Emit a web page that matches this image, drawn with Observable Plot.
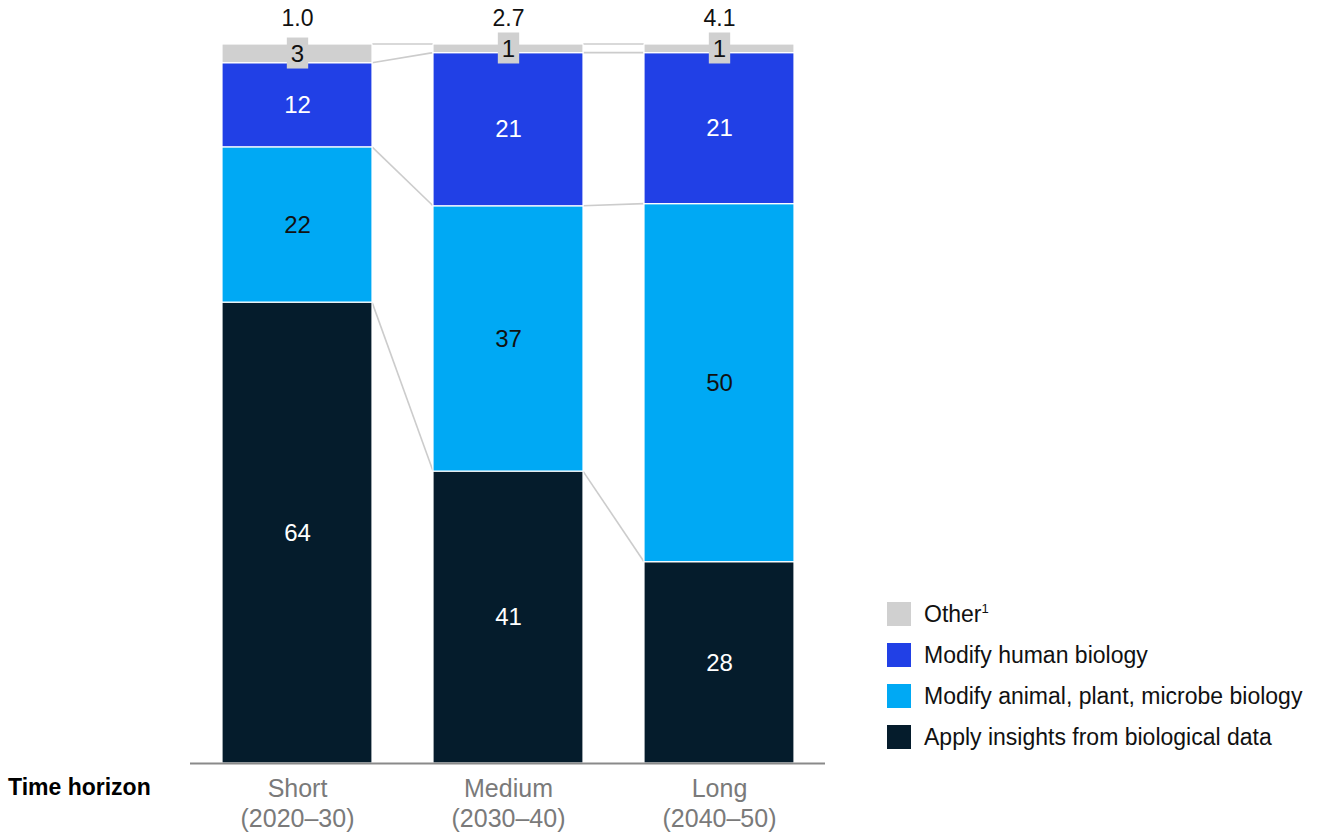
<!DOCTYPE html>
<html>
<head>
<meta charset="utf-8">
<script src="https://cdn.jsdelivr.net/npm/d3@7"></script>
<script src="https://cdn.jsdelivr.net/npm/@observablehq/plot@0.6"></script>
<style>
  body { margin: 0; background: #fff; font-family: "Liberation Sans", Arial, sans-serif; }
  #wrap { position: relative; width: 1326px; height: 832px; }
  #title { position: absolute; left: 8px; top: 774px; font-size: 23px; font-weight: bold; color: #000; }
  #legend { position: absolute; left: 887px; top: 602px; font-size: 23px; color: #111; }
  .item { display: flex; align-items: center; height: 24px; margin-bottom: 17px; }
  .sw { width: 24px; height: 24px; margin-right: 13px; flex: none; }
  sup { font-size: 13px; vertical-align: 9px; }
</style>
</head>
<body>
<div id="wrap">
  <div id="chart"></div>
  <div id="title">Time horizon</div>
  <div id="legend"></div>
</div>
<script>
// ---- data ----
const categories = ["Short\n(2020–30)", "Medium\n(2030–40)", "Long\n(2040–50)"];
const totals = [1.0, 2.7, 4.1];
const series = ["Apply insights from biological data", "Modify animal, plant, microbe biology", "Modify human biology", "Other"];
const applyInsights = [64.1, 40.6, 28.0];
const modifyAnimal = [21.6, 36.9, 49.8];
const modifyHuman = [11.7, 21.3, 21.0];
const other = [2.6, 1.2, 1.2];
const colors = ["#051c2c", "#00a9f4", "#2140e6", "#d0d0d0"];
const legendOrder = ["Other", "Modify human biology", "Modify animal, plant, microbe biology", "Apply insights from biological data"];

const seriesValues = [applyInsights, modifyAnimal, modifyHuman, other];
const rows = [];
series.forEach((s, si) => categories.forEach((c, ci) => rows.push({cat: c, series: s, value: seriesValues[si][ci]})));
const totalRows = categories.map((c, i) => ({cat: c, total: totals[i]}));

// cumulative boundaries for connector lines
const bounds = categories.map((c, ci) => {
  let acc = 0;
  return seriesValues.map(v => (acc += v[ci]));
});

const connectors = (index, scales) => {
  const g = d3.create("svg:g");
  const xs = scales.x;
  const bw = typeof xs.bandwidth === "function" ? xs.bandwidth() : xs.bandwidth;
  for (let ci = 0; ci < categories.length - 1; ci++) {
    for (let k = 0; k < series.length; k++) {
      g.append("line")
        .attr("x1", xs(categories[ci]) + bw)
        .attr("x2", xs(categories[ci + 1]))
        .attr("y1", scales.y(bounds[ci][k]))
        .attr("y2", scales.y(bounds[ci + 1][k]))
        .attr("stroke", "#cccccc")
        .attr("stroke-width", 1.6);
    }
  }
  return g.node();
};

const fmt = d => d3.format(".0f")(d);
const whiteText = new Set(["Apply insights from biological data", "Modify human biology"]);
const LBL = 24;

const plot = Plot.plot({
  width: 1326,
  height: 832,
  marginLeft: 190,
  marginRight: 501,
  marginTop: 44,
  marginBottom: 69,
  style: {fontFamily: "'Liberation Sans', Arial, sans-serif", background: "#fff"},
  x: {domain: categories, paddingInner: 0.29, paddingOuter: 0.145, label: null},
  y: {domain: [0, 100], axis: null},
  color: {domain: series, range: colors},
  marks: [
    connectors,
    Plot.rectY(rows, Plot.stackY({x: "cat", y: "value", fill: "series", stroke: "white", strokeWidth: 1.2, order: null})),
    Plot.ruleY([0], {stroke: "#8a8a8a", strokeWidth: 2}),
    Plot.axisX({tickSize: 0, tickPadding: 12, fontSize: 25, lineHeight: 1.2, fill: "#7a7a7a", color: "#7a7a7a", label: null}),
    Plot.text(rows, Plot.stackY({x: "cat", y: "value", text: d => whiteText.has(d.series) ? fmt(d.value) : "", fill: "white", fontSize: LBL, order: null})),
    Plot.text(rows, Plot.stackY({x: "cat", y: "value", text: d => d.series === "Modify animal, plant, microbe biology" ? fmt(d.value) : "", fill: "#111", fontSize: LBL, order: null})),
    Plot.text(rows, Plot.stackY({x: "cat", y: "value", text: d => d.series === "Other" ? fmt(d.value) : "", fill: "#111", fontSize: LBL, order: null, className: "otherlbl"})),
    Plot.text(totalRows, {x: "cat", y: 100, text: d => d.total.toFixed(1), dy: -26, fontSize: 23, fill: "#111"})
  ]
});

document.getElementById("chart").appendChild(plot);

// grey box behind the "Other" labels
const og = plot.querySelector("g.otherlbl") || plot.querySelector(".otherlbl");
if (og) {
  Array.from(og.querySelectorAll("text")).forEach(t => {
    if (!t.textContent.trim()) return;
    const bb = t.getBBox();
    const rect = document.createElementNS("http://www.w3.org/2000/svg", "rect");
    const w = bb.width + 8, h = 31;
    rect.setAttribute("x", bb.x + bb.width / 2 - w / 2);
    rect.setAttribute("y", bb.y + bb.height / 2 - h / 2);
    rect.setAttribute("width", w);
    rect.setAttribute("height", h);
    rect.setAttribute("fill", "#d0d0d0");
    const tr = t.getAttribute("transform");
    if (tr) rect.setAttribute("transform", tr);
    t.parentNode.insertBefore(rect, t);
  });
}

// legend
const legend = d3.select("#legend");
legendOrder.forEach(name => {
  const item = legend.append("div").attr("class", "item");
  item.append("div").attr("class", "sw").style("background", colors[series.indexOf(name)]);
  const label = item.append("span");
  if (name === "Other") label.html("Other<sup>1</sup>"); else label.text(name);
});
</script>
</body>
</html>
